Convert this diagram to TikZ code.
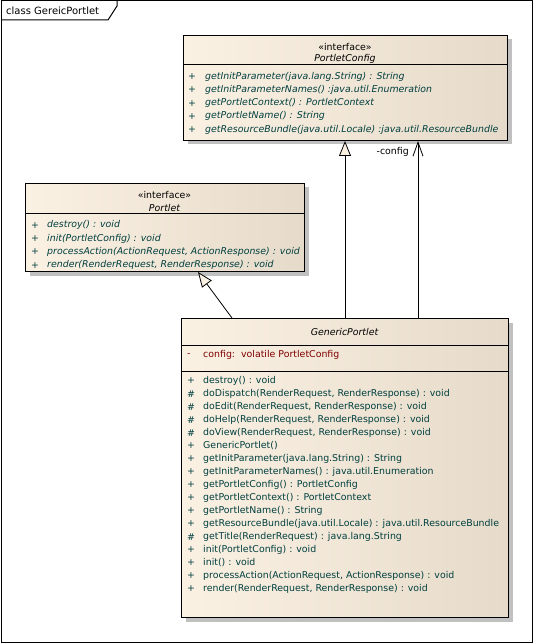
\documentclass[tikz,border=0pt]{standalone}
\usepackage{fontspec}
\setmainfont{DejaVu Sans}
\usetikzlibrary{arrows.meta,shadows}

\definecolor{boxl}{HTML}{FBF1E3}
\definecolor{boxr}{HTML}{E6DBCA}
\definecolor{optext}{HTML}{003F3F}
\definecolor{attrtext}{HTML}{800000}
\definecolor{shadowgray}{HTML}{C0C0C0}

\tikzset{
  classbox/.style={draw=black, line width=1pt, left color=boxl, right color=boxr,
    anchor=north west, inner sep=0pt,
    drop shadow={shadow xshift=4pt, shadow yshift=-4pt, fill=shadowgray, opacity=1}},
  txt/.style={inner sep=0pt, font=\fontsize{9.4}{11}\selectfont},
  itxt/.style={txt, font=\fontsize{9.4}{11}\selectfont\itshape},
  optxt/.style={txt, anchor=west, text=optext},
  iopt/.style={itxt, anchor=west, text=optext},
  attxt/.style={txt, anchor=west, text=attrtext},
  realize/.style={line width=0.8pt, -{Triangle[length=15pt,width=12pt,fill=boxl]}},
  assoc/.style={line width=0.8pt, -{Straight Barb[length=14pt,width=10pt]}}
}

\begin{document}
\begin{tikzpicture}[x=1pt,y=-1pt]
\useasboundingbox (0,0) rectangle (534,644);
% frame
\draw[line width=1pt] (1,1) rectangle (532,642);
\draw[line width=1pt] (1,20) -- (108,20) -- (117,6) -- (117,1);
\node[txt, anchor=west, font=\fontsize{10}{12}\selectfont] (frame-title) at (6,11) {class GereicPortlet};

% PortletConfig
\node[classbox, minimum width=324pt, minimum height=105pt] (cfg) at (183,35) {};
\draw[line width=1pt] (cfg.west |- 0,65) -- (cfg.east |- 0,65);
\node[txt] (cfg-st) at (345,47) {«interface»};
\node[itxt] (cfg-name) at (345,59) {PortletConfig};
\foreach \op [count=\i] in {%
  {getInitParameter(java.lang.String) : String},
  {getInitParameterNames() :java.util.Enumeration},
  {getPortletContext() : PortletContext},
  {getPortletName() : String},
  {getResourceBundle(java.util.Locale) :java.util.ResourceBundle}} {
  \node[optxt] (cfg-v\i) at (188,63.5+13.2*\i) {+};
  \node[iopt] (cfg-op\i) at (205,63.5+13.2*\i) {\op};
}

% Portlet
\node[classbox, minimum width=279pt, minimum height=88pt] (portlet) at (25,183) {};
\draw[line width=1pt] (portlet.west |- 0,213) -- (portlet.east |- 0,213);
\node[txt] (portlet-st) at (164.5,195) {«interface»};
\node[itxt] (portlet-name) at (164.5,208) {Portlet};
\foreach \op [count=\i] in {%
  {destroy() : void},
  {init(PortletConfig) : void},
  {processAction(ActionRequest, ActionResponse) : void},
  {render(RenderRequest, RenderResponse) : void}} {
  \node[optxt] (portlet-v\i) at (31,212+13.3*\i) {+};
  \node[iopt] (portlet-op\i) at (47,212+13.3*\i) {\op};
}

% GenericPortlet
\node[classbox, minimum width=327pt, minimum height=299pt] (generic) at (181,318) {};
\draw[line width=1pt] (generic.west |- 0,345) -- (generic.east |- 0,345);
\draw[line width=1pt] (generic.west |- 0,371) -- (generic.east |- 0,371);
\node[itxt] (generic-name) at (344.5,332) {GenericPortlet};
\node[attxt] (generic-av) at (187,355) {-};
\node[attxt] (generic-attr) at (203,355) {config:\ \ volatile PortletConfig};
\foreach \v/\op [count=\i] in {%
  +/{destroy() : void},
  \#/{doDispatch(RenderRequest, RenderResponse) : void},
  \#/{doEdit(RenderRequest, RenderResponse) : void},
  \#/{doHelp(RenderRequest, RenderResponse) : void},
  \#/{doView(RenderRequest, RenderResponse) : void},
  +/{GenericPortlet()},
  +/{getInitParameter(java.lang.String) : String},
  +/{getInitParameterNames() : java.util.Enumeration},
  +/{getPortletConfig() : PortletConfig},
  +/{getPortletContext() : PortletContext},
  +/{getPortletName() : String},
  +/{getResourceBundle(java.util.Locale) : java.util.ResourceBundle},
  \#/{getTitle(RenderRequest) : java.lang.String},
  +/{init(PortletConfig) : void},
  +/{init() : void},
  +/{processAction(ActionRequest, ActionResponse) : void},
  +/{render(RenderRequest, RenderResponse) : void}} {
  \node[optxt] (generic-v\i) at (187,367.7+13*\i) {\v};
  \node[optxt] (generic-op\i) at (203,367.7+13*\i) {\op};
}

% relations
\draw[realize] (generic.north -| 232,0) -- (portlet.south -| 198,0);
\draw[realize] (generic.north -| 345,0) -- (cfg.south -| 345,0);
\draw[assoc] (generic.north -| 418,0) -- (cfg.south -| 418,0);
\node[txt, anchor=east] (config-role) at (409,152) {-config};
\end{tikzpicture}
\end{document}
